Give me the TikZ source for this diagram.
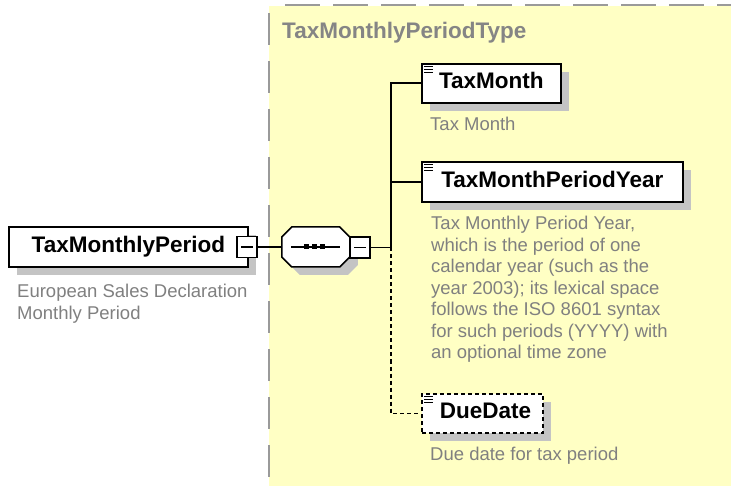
\documentclass[tikz,border=0pt]{standalone}
\usepackage{fontspec}
\setmainfont{Liberation Sans}
\usetikzlibrary{shadows,calc}
\definecolor{bgyellow}{HTML}{FFFFC4}
\definecolor{framegray}{HTML}{9A9A9A}
\definecolor{shadowgray}{HTML}{C4C4C4}
\definecolor{descgray}{HTML}{808080}
\definecolor{titlegray}{HTML}{858585}
\begin{document}
\begin{tikzpicture}[x=1pt,y=-1pt,
  elemfont/.style={font=\fontsize{22.5}{27}\selectfont\bfseries},
  elembox/.style={elemfont, draw=black, line width=1.8pt, fill=white, rectangle, inner sep=0pt,
    text height=16pt, text depth=5pt, anchor=north west,
    drop shadow={shadow xshift=8pt, shadow yshift=-8pt, opacity=1, fill=shadowgray}},
  optbox/.style={elembox, dash pattern=on 4pt off 3pt},
  expbox/.style={draw=black, line width=1.5pt, fill=white, rectangle, inner sep=0pt,
    minimum width=20pt, minimum height=21pt},
  desc/.style={font=\fontsize{18.5}{21.5}\selectfont, text=descgray, align=left, inner sep=0pt},
  conn/.style={draw=black, line width=1.8pt},
  optconn/.style={conn, dash pattern=on 4pt off 3pt},
  docicon/.style={draw=black, line width=0.9pt},
]
\useasboundingbox (0,0) rectangle (731,486);
\fill[white] (0,0) rectangle (731,486);
% complex type area
\fill[bgyellow] (269,6) rectangle (731,486);
\draw[framegray, line width=2pt, dash pattern=on 35pt off 13pt] (285,5.5) -- (731,5.5);
\draw[framegray, line width=2pt, dash pattern=on 32pt off 16pt] (269,13) -- (269,486);
\node[anchor=base west, inner sep=0pt, elemfont, text=titlegray] (title) at (282,39) {TaxMonthlyPeriodType};

% root element
\node[elembox, minimum width=239pt, minimum height=40pt] (root) at (8,226) {TaxMonthlyPeriod\hspace{6pt}};
\node[expbox] (e1) at (247,247) {};
\draw[line width=1.5pt] ($(e1.center)+(-6,0)$) -- ($(e1.center)+(6,0)$);
\node[desc, anchor=north west] (rootdesc) at (17,284) {European Sales Declaration\\Monthly Period};

% sequence compositor
\node[minimum width=68pt, minimum height=40pt, inner sep=0pt] (seq) at (316,247) {};
\fill[shadowgray] ($(seq.west)+(8,8)$) ++(0,-10) -- ++(10,-10) -- ++(48,0) -- ++(10,10) -- ++(0,20) -- ++(-10,10) -- ++(-48,0) -- ++(-10,-10) -- cycle;
\draw[line width=1.5pt, fill=white] (seq.west) ++(0,-10) -- ++(10,-10) -- ++(48,0) -- ++(10,10) -- ++(0,20) -- ++(-10,10) -- ++(-48,0) -- ++(-10,-10) -- cycle;
\draw[line width=1.5pt] ($(seq.center)+(-25,0)$) -- ($(seq.center)+(24,0)$);
\foreach \dx in {-10,-2,6} {
  \fill[black] ($(seq.center)+(\dx,0)+(-2.5,-2.5)$) rectangle ++(5,5);
}
\node[expbox] (e2) at (360,247.5) {};
\draw[line width=1.5pt] ($(e2.center)+(-6,0)$) -- ($(e2.center)+(6,0)$);
\coordinate (jn) at (391,247.5);

% child elements
\node[elembox, minimum width=139pt, minimum height=39pt] (tm) at (421,63) {TaxMonth};
\node[elembox, minimum width=261pt, minimum height=40pt] (tmpy) at (421,161) {TaxMonthPeriodYear};
\node[optbox, minimum width=121pt, minimum height=39pt] (dd) at (421,393) {\hspace{6pt}DueDate};

\foreach \n in {tm,tmpy,dd} {
  \foreach \dy in {3.5,6.5,9.5} {
    \draw[docicon] ($(\n.north west)+(3,\dy)$) -- ++(9,0);
  }
}

\node[desc, anchor=base west] (tmdesc) at (430,131) {Tax Month};
\node[desc, anchor=north west, font=\fontsize{18.5}{21.5}\selectfont] (tmpydesc) at (431,216) {Tax Monthly Period Year,\\which is the period of one\\calendar year (such as the\\year 2003); its lexical space\\follows the ISO 8601 syntax\\for such periods (YYYY) with\\an optional time zone};
\node[desc, anchor=base west] (dddesc) at (430,460) {Due date for tax period};

% connectors
\draw[conn] (e1.east) -- (seq.west);
\draw[conn] (e2.east) -- (jn);
\draw[conn] (jn) |- (tm.west);
\draw[conn] (jn) |- (tmpy.west);
\draw[optconn] (jn) |- (dd.west);
\end{tikzpicture}
\end{document}
